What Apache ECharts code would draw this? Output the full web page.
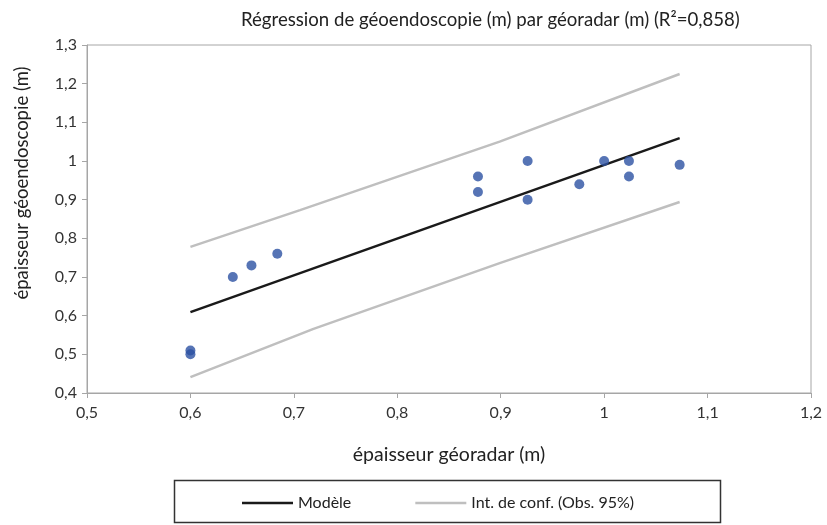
<!DOCTYPE html>
<html>
<head>
<meta charset="utf-8">
<script src="https://cdn.jsdelivr.net/npm/echarts@6/dist/echarts.min.js"></script>
<style>html,body{margin:0;padding:0;background:#fff}#c{width:827px;height:525px}</style>
</head>
<body>
<div id="c"></div>
<script>
// Observations (georadar, geoendoscopie)
const obsX = [0.6, 0.6, 0.641, 0.659, 0.684, 0.878, 0.878, 0.926, 0.926, 0.976, 1.0, 1.024, 1.024, 1.073];
const obsY = [0.51, 0.50, 0.70, 0.73, 0.76, 0.96, 0.92, 1.00, 0.90, 0.94, 1.00, 1.00, 0.96, 0.99];
// Model line
const modelX = [0.6, 1.073];
const modelY = [0.609, 1.059];
// Confidence interval (observations 95%)
const upperX = [0.6, 0.706, 0.899, 1.073];
const upperY = [0.778, 0.873, 1.050, 1.225];
const lowerX = [0.6, 0.719, 0.899, 1.073];
const lowerY = [0.441, 0.566, 0.736, 0.894];

const titleText = 'Régression de géoendoscopie (m) par géoradar (m) (R²=0,858)';
const xName = 'épaisseur géoradar (m)';
const yName = 'épaisseur géoendoscopie (m)';
const modelName = 'Modèle';
const ciName = 'Int. de conf. (Obs. 95%)';

const zip = (a, b) => a.map((v, i) => [v, b[i]]);
const fmt = v => String(Math.round(v * 10) / 10).replace('.', ',');
const FONT = 'Lato';

const chart = echarts.init(document.getElementById('c'), null, {renderer: 'canvas'});
chart.setOption({
  animation: false,
  backgroundColor: '#fff',
  textStyle: {fontFamily: FONT},
  title: {
    text: titleText, left: 236, top: 5,
    textStyle: {fontFamily: FONT, fontSize: 18.6, fontWeight: 'normal', color: '#222'}
  },
  grid: {left: 87, right: 16, top: 45, bottom: 132, show: true, borderColor: '#a6a6a6', borderWidth: 1},
  legend: {
    top: 490, left: 237,
    data: [modelName, ciName],
    icon: 'rect', itemWidth: 51, itemHeight: 2.5, itemGap: 64,
    textStyle: {fontFamily: FONT, fontSize: 16, color: '#222'}
  },
  graphic: [{
    type: 'rect', left: 172, top: 478,
    shape: {width: 546, height: 42},
    style: {fill: 'none', stroke: '#333', lineWidth: 1.5}
  }],
  xAxis: {
    type: 'value', min: 0.5, max: 1.2, interval: 0.1,
    name: xName, nameLocation: 'middle', nameGap: 52,
    nameTextStyle: {fontFamily: FONT, fontSize: 19.5, color: '#222'},
    axisLine: {show: true, onZero: false, lineStyle: {color: '#a6a6a6'}},
    axisTick: {show: true, length: 5, lineStyle: {color: '#a6a6a6'}},
    axisLabel: {formatter: fmt, fontFamily: FONT, fontSize: 16, color: '#333', margin: 12},
    splitLine: {show: false}
  },
  yAxis: {
    type: 'value', min: 0.4, max: 1.3, interval: 0.1,
    name: yName, nameLocation: 'middle', nameGap: 55,
    nameTextStyle: {fontFamily: FONT, fontSize: 18.5, color: '#222', padding: [0, 0, 0, 72]},
    axisLine: {show: true, onZero: false, lineStyle: {color: '#a6a6a6'}},
    axisTick: {show: true, length: 5, lineStyle: {color: '#a6a6a6'}},
    axisLabel: {formatter: fmt, fontFamily: FONT, fontSize: 16, color: '#333', margin: 10},
    splitLine: {show: false}
  },
  series: [
    {
      name: ciName, type: 'line', data: zip(upperX, upperY), symbol: 'none', smooth: false,
      lineStyle: {color: '#bfbfbf', width: 2.5}, itemStyle: {color: '#bfbfbf'}, z: 2
    },
    {
      name: ciName, type: 'line', data: zip(lowerX, lowerY), symbol: 'none', smooth: false,
      lineStyle: {color: '#bfbfbf', width: 2.5}, itemStyle: {color: '#bfbfbf'}, z: 2
    },
    {
      name: modelName, type: 'line', data: zip(modelX, modelY), symbol: 'none',
      lineStyle: {color: '#1a1a1a', width: 2.5}, itemStyle: {color: '#1a1a1a'}, z: 3
    },
    {
      name: 'Observations', type: 'scatter', data: zip(obsX, obsY),
      symbol: 'circle', symbolSize: 10, itemStyle: {color: '#2c51a3'}, z: 4
    }
  ]
});
</script>
</body>
</html>
